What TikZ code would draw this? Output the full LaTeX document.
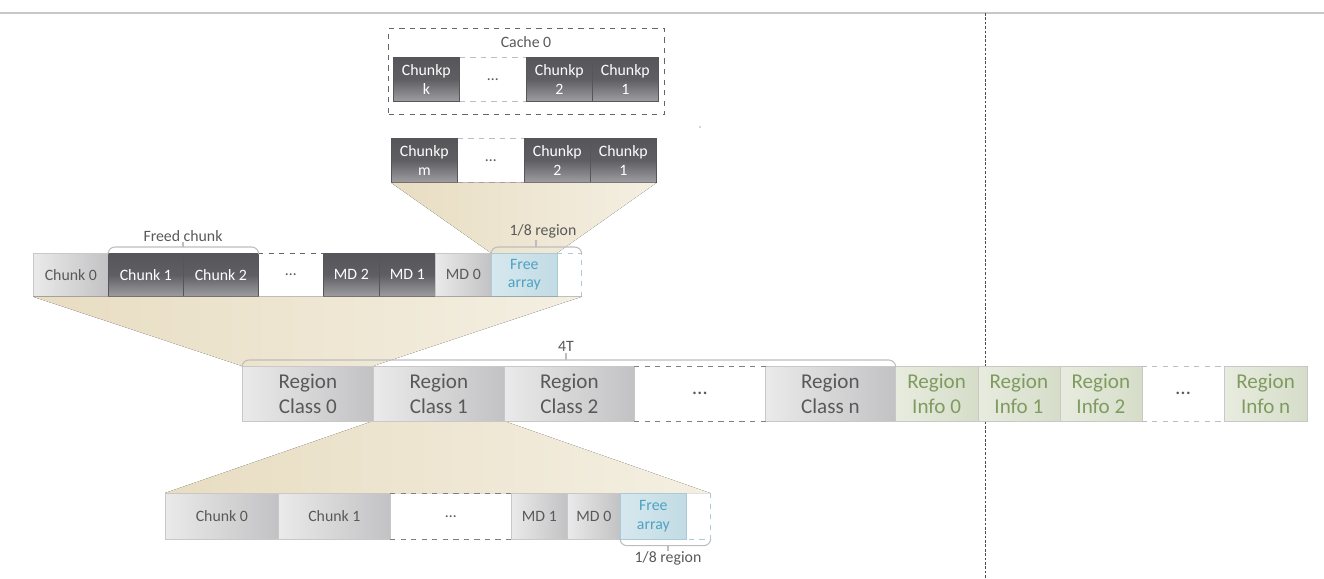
\documentclass[tikz,border=0pt]{standalone}
\usepackage{xcolor}
\usepackage{fontspec}
\setmainfont{Carlito}
\usepackage{tikz}
\usetikzlibrary{positioning}

\definecolor{dkTop}{HTML}{56555A}
\definecolor{dkMid}{HTML}{5F5E63}
\definecolor{dkBot}{HTML}{9E9DA2}
\definecolor{ltLeft}{HTML}{EAEAEA}
\definecolor{ltRight}{HTML}{C2C2C4}
\definecolor{ltEdge}{HTML}{C8C8C8}
\definecolor{txtGray}{HTML}{595959}
\definecolor{frLeft}{HTML}{D6E8EE}
\definecolor{frRight}{HTML}{C2DBE4}
\definecolor{frText}{HTML}{4EA2C2}
\definecolor{frEdge}{HTML}{A9CBD7}
\definecolor{infLeft}{HTML}{E8ECDF}
\definecolor{infRight}{HTML}{D5DDC9}
\definecolor{infText}{HTML}{809B60}
\definecolor{fnA}{HTML}{E8DDC2}
\definecolor{fnB}{HTML}{F4EFE2}
\definecolor{brGray}{HTML}{BDBDBD}

\begin{document}
\begin{tikzpicture}[x=0.02cm, y=-0.02cm,
	cell/.style={anchor=north west, inner sep=0pt, align=center, line width=0.4pt,
		font=\fontsize{9}{10.5}\selectfont},
	darkcell/.style={cell, draw=dkTop, top color=dkTop, bottom color=dkBot, middle color=dkMid, text=white},
	lightcell/.style={cell, draw=ltEdge, left color=ltLeft, right color=ltRight, text=txtGray},
	freecell/.style={cell, draw=frEdge, left color=frLeft, right color=frRight, text=frText},
	infocell/.style={cell, draw=ltEdge, left color=infLeft, right color=infRight, text=infText},
	gapcell/.style={cell, text=txtGray},
	bigtext/.style={font=\fontsize{12}{14.4}\selectfont},
	funnel/.style={left color=fnA, right color=fnB, draw=none},
	brace/.style={draw=brGray, line width=0.6pt, rounded corners=4pt},
	lbl/.style={inner sep=1pt, text=txtGray, font=\fontsize{9}{10.5}\selectfont}]
	\useasboundingbox (0,0) rectangle (1324,578);
	
	% Linea superior y separador
	\draw[draw=ltEdge, line width=0.6pt] (0,13) -- (1324,13);
	\draw[draw=black!70, line width=0.5pt, dash pattern=on 1.5pt off 1pt] (985,13) -- (985,578);
	\fill[black!70] (700,127) circle (0.6);
	
	% Cache 0
	\node[draw=black!60, dashed, line width=0.7pt, anchor=north west, inner sep=0pt,
		minimum width=5.52cm, minimum height=1.72cm] (cache) at (388,28) {};
	\node[lbl] (cachelbl) at (526,42) {Cache 0};
	\node[darkcell, minimum width=1.32cm, minimum height=0.88cm] (ck) at (393,57) {Chunkp\\k};
	\node[gapcell, minimum width=1.34cm, minimum height=0.88cm] (cdots) at (459,57) {\dots};
	\node[darkcell, minimum width=1.32cm, minimum height=0.88cm] (c2) at (526,57) {Chunkp\\2};
	\node[darkcell, minimum width=1.32cm, minimum height=0.88cm] (c1) at (592,57) {Chunkp\\1};
	\draw[brGray, dashed] (ck.north east) -- (c2.north west);
	\draw[brGray, dashed] (ck.south east) -- (c2.south west);
	
	% Lista libre
	\node[darkcell, minimum width=1.32cm, minimum height=0.88cm] (fm) at (391,138) {Chunkp\\m};
	\node[gapcell, minimum width=1.34cm, minimum height=0.88cm] (fdots) at (457,138) {\dots};
	\node[darkcell, minimum width=1.32cm, minimum height=0.88cm] (f2) at (524,138) {Chunkp\\2};
	\node[darkcell, minimum width=1.32cm, minimum height=0.88cm] (f1) at (590,138) {Chunkp\\1};
	\draw[brGray, dashed] (fm.north east) -- (f2.north west);
	\draw[brGray, dashed] (fm.south east) -- (f2.south west);
	
	% Region de chunks
	\coordinate (atop) at (491,253);
	\fill[funnel] (fm.south west) -- (f1.south east) -- (557,253) -- (atop) -- cycle;
	\node[lightcell, minimum width=1.5cm, minimum height=0.86cm] (a0) at (33,253) {Chunk 0};
	\node[darkcell, minimum width=1.5cm, minimum height=0.86cm] (a1) at (108,253) {Chunk 1};
	\node[darkcell, minimum width=1.5cm, minimum height=0.86cm] (a2) at (183,253) {Chunk 2};
	\node[gapcell, minimum width=1.3cm, minimum height=0.86cm] (adots) at (258,253) {\dots};
	\node[darkcell, minimum width=1.12cm, minimum height=0.86cm] (amd2) at (323,253) {MD 2};
	\node[darkcell, minimum width=1.12cm, minimum height=0.86cm] (amd1) at (379,253) {MD 1};
	\node[lightcell, minimum width=1.12cm, minimum height=0.86cm] (amd0) at (435,253) {MD 0};
	\node[freecell, minimum width=1.32cm, minimum height=0.86cm] (afree) at (491,253) {Free\\array};
	\node[cell, minimum width=0.48cm, minimum height=0.86cm] (aend) at (557,253) {};
	\draw[frEdge, dashed] (aend.north west) -- (aend.north east) -- (aend.south east);
	\draw[black!60, dashed] (adots.north west) -- (adots.north east);
	
	% Freed chunk
	\draw[brace] (a1.north west) -- ++(0,-6) -| (a2.north east);
	\draw[brace] (183,247) -- (183,242);
	\node[lbl] (freed) at (183,236) {Freed chunk};
	
	% 1/8 region arriba
	\draw[brace] (afree.north west) -- ++(0,-6) -| (aend.north east);
	\draw[brace] (536,247) -- (536,240);
	\node[lbl] (eighth) at (543,231) {1/8 region};
	
	% Fila de regiones
	\fill[funnel] (a0.south west) -- (aend.south east) -- (373,366) -- (242,366) -- cycle;
	\fill[funnel] (373,421) -- (504,421) -- (710,493) -- (165,493) -- cycle;
	\node[lightcell, bigtext, minimum width=2.62cm, minimum height=1.1cm] (rc0) at (242,366) {Region\\Class 0};
	\node[lightcell, bigtext, minimum width=2.62cm, minimum height=1.1cm] (rc1) at (373,366) {Region\\Class 1};
	\node[lightcell, bigtext, minimum width=2.6cm, minimum height=1.1cm] (rc2) at (504,366) {Region\\Class 2};
	\node[gapcell, bigtext, minimum width=2.62cm, minimum height=1.1cm] (rdots) at (634,366) {\dots};
	\node[lightcell, bigtext, minimum width=2.6cm, minimum height=1.1cm] (rcn) at (765,366) {Region\\Class n};
	\draw[black!50, dashed] (rdots.north west) -- (rdots.north east);
	\draw[black!50, dashed] (rdots.south west) -- (rdots.south east);
	
	\node[infocell, bigtext, minimum width=1.65cm, minimum height=1.1cm] (ri0) at (895,366) {Region\\Info 0};
	\node[infocell, bigtext, minimum width=1.64cm, minimum height=1.1cm] (ri1) at (977.5,366) {Region\\Info 1};
	\node[infocell, bigtext, minimum width=1.64cm, minimum height=1.1cm] (ri2) at (1059.5,366) {Region\\Info 2};
	\node[gapcell, bigtext, minimum width=1.65cm, minimum height=1.1cm] (idots) at (1141.5,366) {\dots};
	\node[infocell, bigtext, minimum width=1.65cm, minimum height=1.1cm] (rin) at (1224,366) {Region\\Info n};
	\draw[brGray, dashed] (idots.north west) -- (idots.north east);
	\draw[brGray, dashed] (idots.south west) -- (idots.south east);
	
	% 4T
	\draw[brace] (rc0.north west) -- ++(0,-6) -| (rcn.north east);
	\draw[brace] (566,360) -- (566,353);
	\node[lbl] (fourT) at (566,346) {4T};
	
	% Region abajo
	\node[lightcell, minimum width=2.26cm, minimum height=0.92cm] (b0) at (165,493) {Chunk 0};
	\node[lightcell, minimum width=2.24cm, minimum height=0.92cm] (b1) at (278,493) {Chunk 1};
	\node[gapcell, minimum width=2.42cm, minimum height=0.92cm] (bdots) at (390,493) {\dots};
	\node[lightcell, minimum width=1.12cm, minimum height=0.92cm] (bmd1) at (511,493) {MD 1};
	\node[lightcell, minimum width=1.06cm, minimum height=0.92cm] (bmd0) at (567,493) {MD 0};
	\node[freecell, minimum width=1.32cm, minimum height=0.92cm] (bfree) at (620,493) {Free\\array};
	\node[cell, minimum width=0.48cm, minimum height=0.92cm] (bend) at (686,493) {};
	\draw[frEdge, dashed] (bend.north east) -- (bend.south east) -- (bend.south west);
	\draw[black!50, dashed] (bdots.north west) -- (bdots.north east);
	\draw[black!50, dashed] (bdots.south west) -- (bdots.south east);
	
	% 1/8 region abajo
	\draw[brace] (bfree.south west) -- ++(0,6) -| (bend.south east);
	\draw[brace] (668,545) -- (668,551);
	\node[lbl] (eighthb) at (668,558) {1/8 region};
\end{tikzpicture}
\end{document}
